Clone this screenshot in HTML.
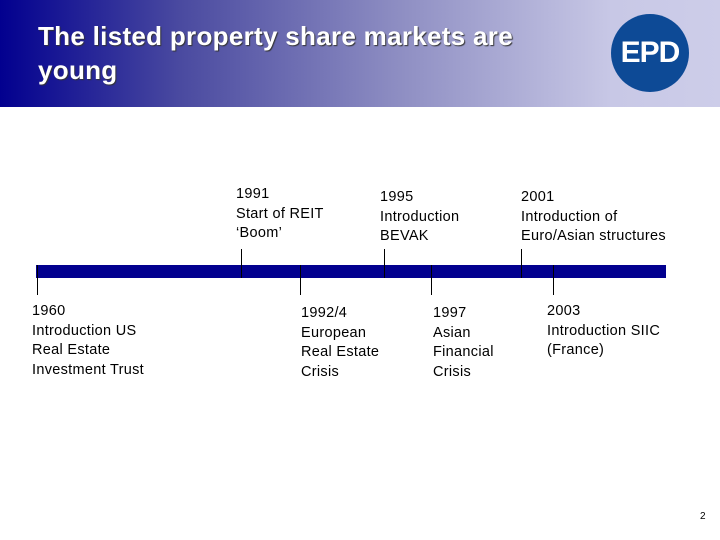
<!DOCTYPE html>
<html><head><meta charset="utf-8"><style>
body{margin:0;width:720px;height:540px;position:relative;background:#fff;font-family:"Liberation Sans",Arial,sans-serif;overflow:hidden}
.hdr{position:absolute;left:0;top:0;width:720px;height:107px;background:linear-gradient(90deg,#02008f 0%,#4a4aa0 25%,#8d8dc2 55%,#c8c8e6 85%,#cdcde9 100%)}
.title{position:absolute;left:38px;top:19px;color:#fff;font-weight:bold;font-size:26px;letter-spacing:0.3px;line-height:34px;text-shadow:1px 1px 1px #333}
.logo{position:absolute;left:611px;top:14px;width:78px;height:78px;border-radius:50%;background:#0d4a96;color:#fff;font-weight:bold;font-size:30px;letter-spacing:-1px;line-height:78px;text-align:center}
.bar{position:absolute;left:36px;top:265px;width:630px;height:13px;background:#02008f}
.tk{position:absolute;width:1px;background:#000}
.up{top:249px;height:29px}.dn{top:265px;height:30px}
.lbl{position:absolute;font-size:14.5px;letter-spacing:0.3px;line-height:19.5px;color:#000;white-space:nowrap}
.pg{position:absolute;left:700px;top:511px;font-size:10px}
</style></head><body>
<div class="hdr"></div>
<div class="title">The listed property share markets are<br>young</div>
<div class="logo">EPD</div>
<div class="bar"></div>
<div class="tk up" style="left:241px"></div>
<div class="tk up" style="left:384px"></div>
<div class="tk up" style="left:521px"></div>
<div class="tk dn" style="left:37px"></div>
<div class="tk dn" style="left:300px"></div>
<div class="tk dn" style="left:431px"></div>
<div class="tk dn" style="left:553px"></div>
<div class="lbl" style="left:236px;top:185px">1991<br>Start of REIT<br>‘Boom’</div>
<div class="lbl" style="left:380px;top:188px">1995<br>Introduction<br>BEVAK</div>
<div class="lbl" style="left:521px;top:188px">2001<br>Introduction of<br>Euro/Asian structures</div>
<div class="lbl" style="left:32px;top:302px">1960<br>Introduction US<br>Real Estate<br>Investment Trust</div>
<div class="lbl" style="left:301px;top:304px">1992/4<br>European<br>Real Estate<br>Crisis</div>
<div class="lbl" style="left:433px;top:304px">1997<br>Asian<br>Financial<br>Crisis</div>
<div class="lbl" style="left:547px;top:302px">2003<br>Introduction SIIC<br>(France)</div>
<div class="pg">2</div>
</body></html>
